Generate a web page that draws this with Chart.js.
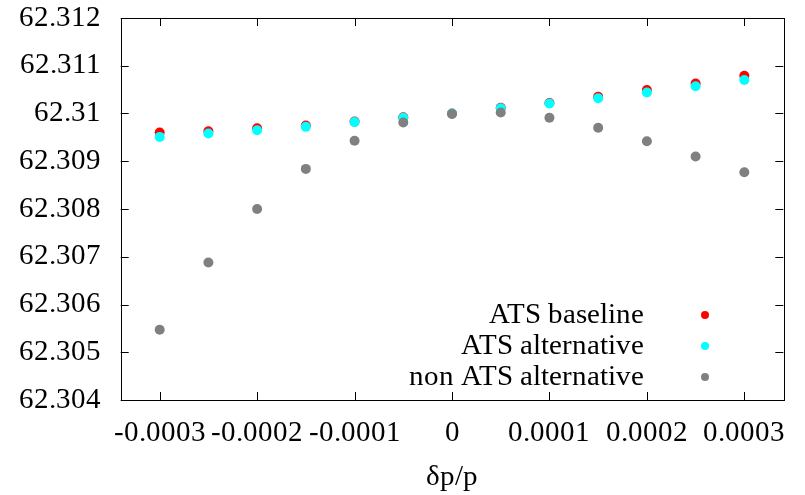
<!DOCTYPE html>
<html>
<head>
<meta charset="utf-8">
<script src="https://cdn.jsdelivr.net/npm/chart.js@4"></script>
<style>
  @font-face { font-family: 'GrafSerif'; src: local('Liberation Serif'), local('LiberationSerif'), local('Times New Roman'); }
  html, body { margin: 0; padding: 0; background: #fff; }
  #wrap { width: 805px; height: 495px; }
</style>
</head>
<body>
<div id="wrap"><canvas id="graf" width="805" height="495"></canvas></div>
<script>
// podaci ocitani sa slike
const dpp = [-0.0003, -0.00025, -0.0002, -0.00015, -0.0001, -0.00005, 0,
             0.00005, 0.0001, 0.00015, 0.0002, 0.00025, 0.0003];
const atsBaseline = [62.30960, 62.30963, 62.30969, 62.30975, 62.30983, 62.30992, 62.31000,
                     62.31012, 62.31022, 62.31035, 62.31049, 62.31063, 62.31079];
const atsAlternative = [62.30951, 62.30958, 62.30965, 62.30972, 62.30982, 62.30991, 62.31000,
                        62.31011, 62.31021, 62.31032, 62.31044, 62.31057, 62.31070];
const nonAtsAlternative = [62.30547, 62.30688, 62.30800, 62.30884, 62.30943, 62.30981, 62.30999,
                           62.31002, 62.30991, 62.30970, 62.30942, 62.30910, 62.30877];
const seriesNames = ['ATS baseline', 'ATS alternative', 'non ATS alternative'];
const seriesColors = ['#ff0000', '#00ffff', '#808080'];

const xTickValues = [-0.0003, -0.0002, -0.0001, 0, 0.0001, 0.0002, 0.0003];
const xTickLabels = ['-0.0003', '-0.0002', '-0.0001', '0', '0.0001', '0.0002', '0.0003'];
const yTickValues = [62.304, 62.305, 62.306, 62.307, 62.308, 62.309, 62.31, 62.311, 62.312];
const yTickLabels = ['62.304', '62.305', '62.306', '62.307', '62.308', '62.309', '62.31', '62.311', '62.312'];

const fontFam = "GrafSerif, 'Liberation Serif', 'Times New Roman', serif";
Chart.defaults.font.family = fontFam;

// okvir i kratke crtice prema unutra (kao gnuplot)
const okvir = {
    id: 'okvir',
    afterDatasetsDraw(chart) {
        const {ctx, chartArea: a, scales} = chart;
        ctx.save();
        ctx.strokeStyle = '#000';
        ctx.lineWidth = 1;
        ctx.beginPath();
        xTickValues.forEach(v => {
            const x = Math.round(scales.x.getPixelForValue(v)) + 0.5;
            ctx.moveTo(x, a.bottom); ctx.lineTo(x, a.bottom - 8);
            ctx.moveTo(x, a.top); ctx.lineTo(x, a.top + 8);
        });
        yTickValues.forEach(v => {
            const y = Math.round(scales.y.getPixelForValue(v)) + 0.5;
            ctx.moveTo(a.left, y); ctx.lineTo(a.left + 8, y);
            ctx.moveTo(a.right, y); ctx.lineTo(a.right - 8, y);
        });
        ctx.stroke();
        ctx.strokeRect(Math.round(a.left) + 0.5, Math.round(a.top) + 0.5,
                       Math.round(a.right - a.left), Math.round(a.bottom - a.top));
        ctx.restore();
    }
};

// legenda desno dolje: tekst pa tocka
const legenda = {
    id: 'legenda',
    afterDraw(chart) {
        const ctx = chart.ctx;
        ctx.save();
        ctx.font = '29px ' + fontFam;
        ctx.textAlign = 'right';
        ctx.textBaseline = 'middle';
        seriesNames.forEach((name, i) => {
            const y = 315 + i * 31;
            ctx.fillStyle = '#000';
            ctx.fillText(name, 644, y);
            ctx.fillStyle = seriesColors[i];
            ctx.beginPath();
            ctx.arc(705, y, 4, 0, Math.PI * 2);
            ctx.fill();
        });
        ctx.restore();
    }
};

function tocke(vals) {
    return dpp.map((x, i) => ({x: x, y: vals[i]}));
}

function nacrtaj() {
    const ctx = document.getElementById('graf').getContext('2d');
    new Chart(ctx, {
        type: 'scatter',
        data: {
            datasets: [
                { label: seriesNames[0], data: tocke(atsBaseline), backgroundColor: seriesColors[0], order: 2 },
                { label: seriesNames[1], data: tocke(atsAlternative), backgroundColor: seriesColors[1], order: 1 },
                { label: seriesNames[2], data: tocke(nonAtsAlternative), backgroundColor: seriesColors[2], order: 0 }
            ]
        },
        options: {
            responsive: false,
            animation: false,
            elements: { point: { radius: 5, borderWidth: 0, hoverRadius: 5 } },
            layout: { padding: { left: 0, right: 21.7, top: 18, bottom: 0 } },
            plugins: { legend: { display: false }, tooltip: { enabled: false } },
            scales: {
                x: {
                    type: 'linear',
                    min: -0.00034,
                    max: 0.00034,
                    grid: { display: false, drawTicks: false },
                    border: { display: false },
                    afterBuildTicks: s => { s.ticks = xTickValues.map(v => ({value: v})); },
                    afterFit: s => { s.height = 95; s.paddingLeft = 0; s.paddingRight = 0; },
                    ticks: {
                        padding: 16,
                        color: '#000',
                        maxRotation: 0,
                        autoSkip: false,
                        font: { family: fontFam, size: 29 },
                        callback: (v, i) => xTickLabels[i]
                    },
                    title: {
                        display: true,
                        text: 'δp/p',
                        color: '#000',
                        padding: 0,
                        font: { family: fontFam, size: 29 }
                    }
                },
                y: {
                    type: 'linear',
                    min: 62.304,
                    max: 62.312,
                    grid: { display: false, drawTicks: false },
                    border: { display: false },
                    afterBuildTicks: s => { s.ticks = yTickValues.map(v => ({value: v})); },
                    afterFit: s => { s.width = 120.7; s.paddingTop = 0; s.paddingBottom = 0; },
                    ticks: {
                        padding: 20,
                        color: '#000',
                        autoSkip: false,
                        font: { family: fontFam, size: 29 },
                        callback: (v, i) => yTickLabels[i]
                    }
                }
            }
        },
        plugins: [okvir, legenda]
    });
}

// pricekaj da se font ucita pa tek onda crtaj
if (document.fonts && document.fonts.load) {
    Promise.all([
        document.fonts.load("29px GrafSerif"),
        document.fonts.load("29px 'Liberation Serif'")
    ]).then(nacrtaj, nacrtaj);
} else {
    nacrtaj();
}
</script>
</body>
</html>
